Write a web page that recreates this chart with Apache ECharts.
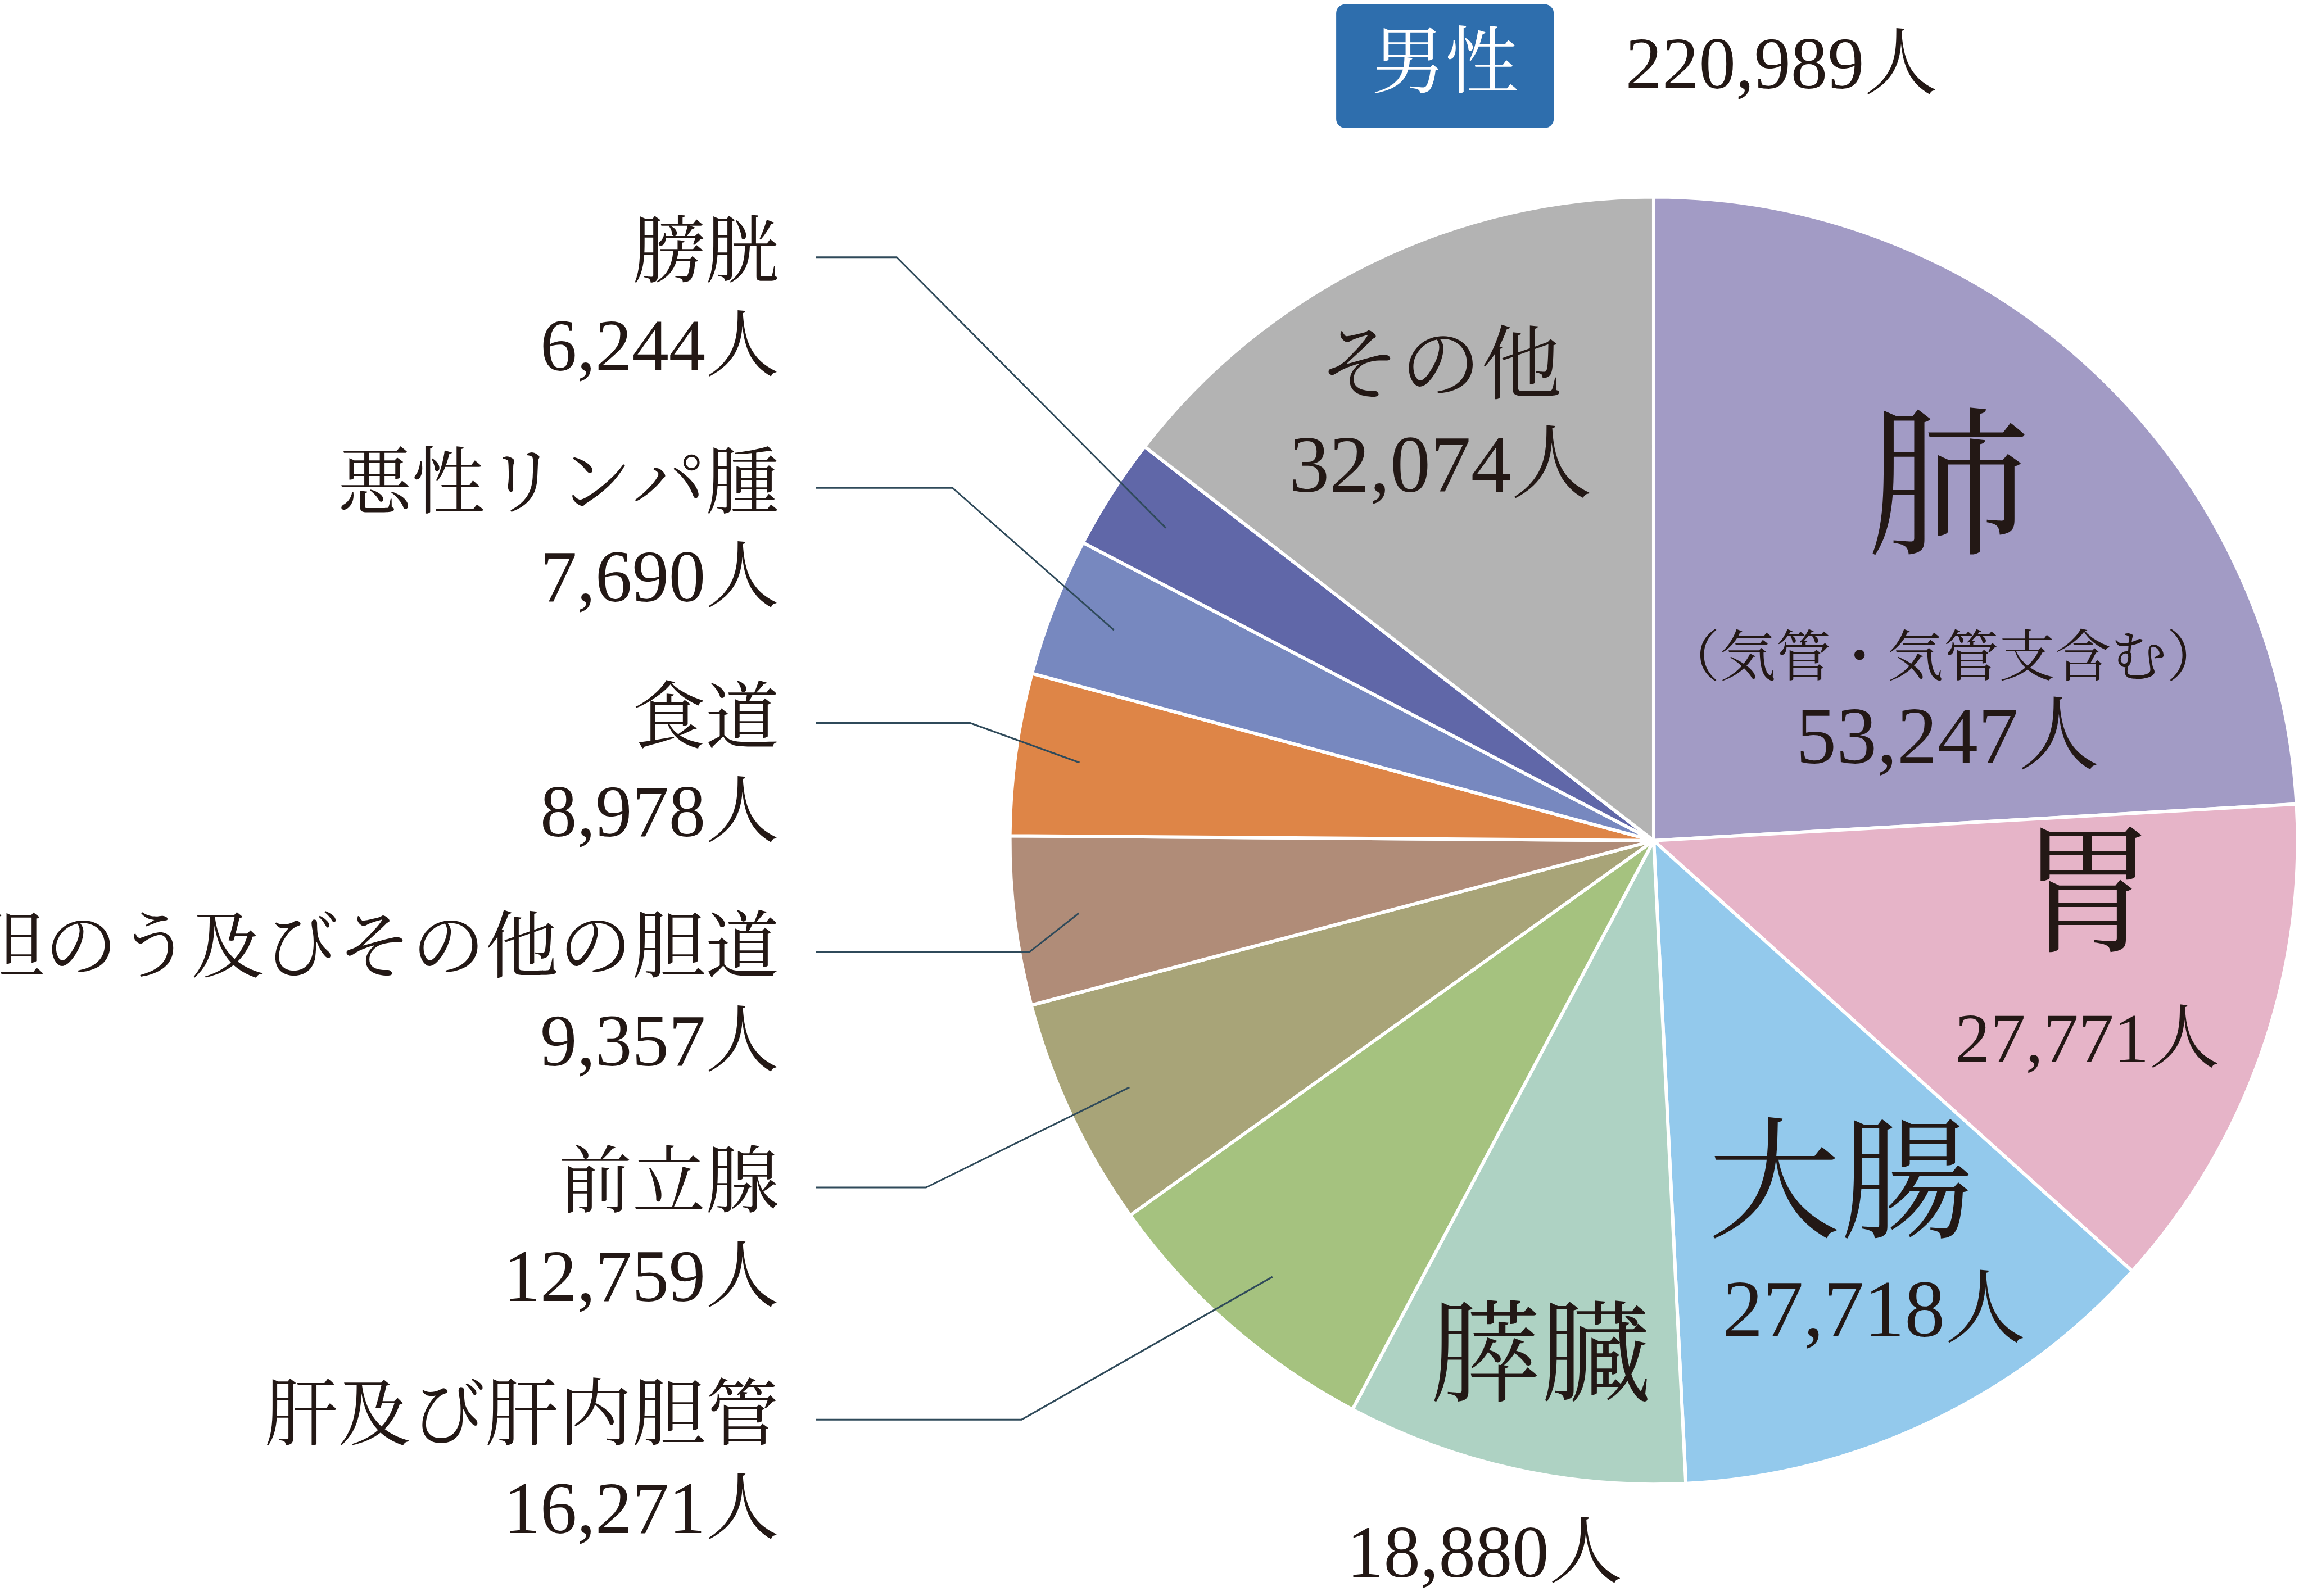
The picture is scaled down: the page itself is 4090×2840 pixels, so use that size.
<!DOCTYPE html>
<html><head><meta charset="utf-8">
<script src="https://cdn.jsdelivr.net/npm/echarts@6/dist/echarts.min.js"></script>
<style>html,body{margin:0;background:#fff}#main{width:4090px;height:2840px}</style>
</head><body><div id="main"></div>
<script>
var names = ['肺', '胃', '大腸', '膵臓', '肝及び肝内胆管', '前立腺', '胆のう及びその他の胆道', '食道', '悪性リンパ腫', '膀胱', 'その他'];
var values = [53247, 27771, 27718, 18880, 16271, 12759, 9357, 8978, 7690, 6244, 32074];
var colors = ['#a29bc5', '#e6b4c8', '#93c9ec', '#aed2c3', '#a5c27f', '#a8a478', '#b08c78', '#de8547', '#7788bf', '#6067a8', '#b3b3b3'];
var total = 220989;

var S = 4090 / 1564;
function s(v) { return v * S; }
var cx = 1125, cy = 572, R = 438;
var FONT = '"Liberation Serif", "Noto Serif CJK JP", "Noto Sans CJK JP", serif';

function fmt(v) { return v.toLocaleString('en-US') + '人'; }

function txt(str, x, y, size, align, color) {
    return {
        type: 'text', x: s(x), y: s(y), z: 100,
        style: { text: str, fontSize: s(size), fontFamily: FONT, fill: color || '#231815',
            align: align || 'center', verticalAlign: 'middle' }
    };
}

// mid angle of each slice (clockwise from 12 o'clock)
var sum = values.reduce(function (a, b) { return a + b; }, 0);
function midPoint(i, k) {
    var acc = 0;
    for (var j = 0; j < i; j++) acc += values[j];
    var a = Math.PI / 2 - (acc + values[i] / 2) / sum * 2 * Math.PI;
    return [cx + Math.cos(a) * R * k, cy - Math.sin(a) * R * k];
}

var graphics = [];
graphics.push({ type: 'rect', z: 100, shape: { x: s(909), y: s(3), width: s(148), height: s(84), r: s(6) }, style: { fill: '#2e6ead' } });
graphics.push(txt('男性', 983, 46, 50, 'center', '#fff'));
graphics.push(txt(fmt(total), 1212, 47, 50));

// left side labels: [index, name y, corner x]
var outer = [[9, 175, 610], [8, 332, 648], [7, 492, 660], [6, 648, 700], [5, 808, 630], [4, 966, 695]];
outer.forEach(function (o) {
    var i = o[0], y = o[1];
    graphics.push(txt(names[i], 530, y, 50, 'right'));
    graphics.push(txt(fmt(values[i]), 530, y + 64, 50, 'right'));
    var p = midPoint(i, 0.9);
    graphics.push({ type: 'polyline', z: 100,
        shape: { points: [[s(555), s(y)], [s(o[2]), s(y)], [s(p[0]), s(p[1])]] },
        style: { stroke: '#2f4a5a', lineWidth: 3, fill: null } });
});

// inside labels
graphics.push(txt('肺', 1325, 340, 110));
graphics.push(txt('（気管・気管支含む）', 1322, 450, 38));
graphics.push(txt(fmt(values[0]), 1325, 505, 55));
graphics.push(txt('胃', 1420, 615, 95));
graphics.push(txt(fmt(values[1]), 1420, 710, 48));
graphics.push(txt('大腸', 1252, 812, 90));
graphics.push(txt(fmt(values[2]), 1275, 895, 55));
graphics.push(txt('膵臓', 1048, 928, 75));
graphics.push(txt(fmt(values[3]), 1010, 1060, 50));
graphics.push(txt('その他', 980, 253, 55));
graphics.push(txt(fmt(values[10]), 980, 320, 55));

var chart = echarts.init(document.getElementById('main'));
chart.setOption({
    backgroundColor: '#fff',
    animation: false,
    series: [{
        type: 'pie',
        center: [s(cx), s(cy)],
        radius: s(R),
        startAngle: 90,
        clockwise: true,
        label: { show: false },
        labelLine: { show: false },
        itemStyle: { borderColor: '#fff', borderWidth: 6 },
        data: names.map(function (n, i) {
            return { name: n, value: values[i], itemStyle: { color: colors[i] } };
        })
    }],
    graphic: { elements: graphics }
});
</script></body></html>
